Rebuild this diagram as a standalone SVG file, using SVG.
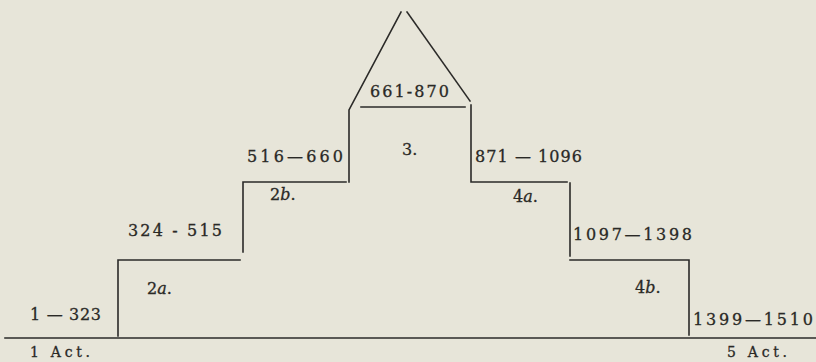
<svg xmlns="http://www.w3.org/2000/svg" width="816" height="362" viewBox="0 0 816 362">
<style>
.ln{stroke:#2b2a28;stroke-width:1.6;fill:none;stroke-linecap:square}
.t{font-family:"DejaVu Serif","Liberation Serif",serif;font-size:16px;fill:#2a2926;stroke:#2a2926;stroke-width:0.3}
.s{font-size:14px}
.i{font-style:italic}
</style>
<rect width="816" height="362" fill="#e7e5d9"/>
<g id="connectors">
<path class="ln" d="M5 338 H816"/>
<path class="ln" d="M118 336 V260 H240"/>
<path class="ln" d="M243 252 V182 H346"/>
<path class="ln" d="M349 182 V110 L401 12"/>
<path class="ln" d="M407 12 L470 101"/>
<path class="ln" d="M361 107 H465"/>
<path class="ln" d="M471 105 V182 H567"/>
<path class="ln" d="M570 183 V256"/>
<path class="ln" d="M570 260 H689 V335"/>
</g>
<g id="act1"><text class="t s" x="30" y="357" textLength="60" lengthAdjust="spacing">1 Act.</text><text class="t" x="30" y="320" textLength="71" lengthAdjust="spacing">1 — 323</text></g>
<g id="n2a"><text class="t" x="147" y="294">2<tspan class="i">a</tspan>.</text></g>
<g id="r324"><text class="t" x="128" y="236" textLength="94" lengthAdjust="spacing">324 - 515</text></g>
<g id="n2b"><text class="t" x="270" y="200">2<tspan class="i">b</tspan>.</text></g>
<g id="r516"><text class="t" x="247" y="162" textLength="96" lengthAdjust="spacing">516—660</text></g>
<g id="n3"><text class="t" x="402" y="155">3.</text></g>
<g id="r661"><text class="t" x="370" y="97" textLength="79" lengthAdjust="spacing">661-870</text></g>
<g id="r871"><text class="t" x="475" y="162" textLength="107" lengthAdjust="spacing">871 — 1096</text></g>
<g id="n4a"><text class="t" x="513" y="202">4<tspan class="i">a</tspan>.</text></g>
<g id="r1097"><text class="t" x="573" y="240" textLength="119" lengthAdjust="spacing">1097—1398</text></g>
<g id="n4b"><text class="t" x="635" y="293">4<tspan class="i">b</tspan>.</text></g>
<g id="r1399"><text class="t" x="693" y="325" textLength="120" lengthAdjust="spacing">1399—1510</text></g>
<g id="act5"><text class="t s" x="727" y="357" textLength="60" lengthAdjust="spacing">5 Act.</text></g>
</svg>
